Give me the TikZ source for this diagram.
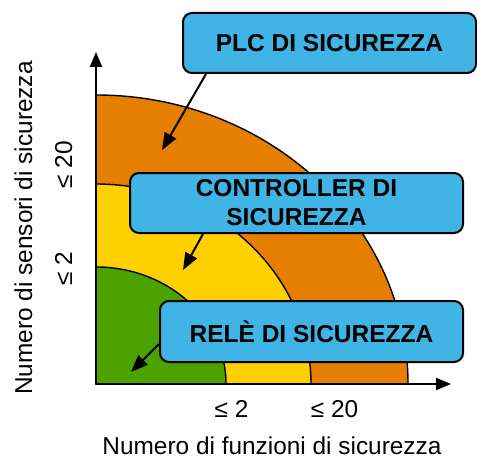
\documentclass[tikz,border=0pt]{standalone}
\usepackage{fontspec}
\setmainfont{Liberation Sans}
\usetikzlibrary{arrows.meta,calc}
\definecolor{cOrange}{HTML}{E67E00}
\definecolor{cYellow}{HTML}{FFD000}
\definecolor{cGreen}{HTML}{4CA300}
\definecolor{cBlue}{HTML}{41B4E6}
\tikzset{
  zone/.style={draw=black, line width=1.4pt},
  axis/.style={line width=2pt, -{Triangle[length=15pt,width=12pt]}},
  callout/.style={draw=black, fill=cBlue, line width=2pt, rounded corners=9pt,
    inner sep=0pt, align=center, font=\fontsize{24.5}{29}\selectfont\bfseries},
  pointer/.style={line width=2pt, -{Triangle[length=17pt,width=13pt]}},
  lbl/.style={font=\fontsize{24.4}{28}\selectfont, inner sep=0pt},
}
\begin{document}
\begin{tikzpicture}[x=1pt,y=1pt]
\useasboundingbox (0,0) rectangle (477,459);
\coordinate (O) at (96,75);
% zones
\filldraw[zone, fill=cOrange] (O) -- ++(312,0) arc[start angle=0, end angle=90, x radius=312, y radius=289] -- cycle;
\filldraw[zone, fill=cYellow] (O) -- ++(215,0) arc[start angle=0, end angle=90, x radius=215, y radius=200] -- cycle;
\filldraw[zone, fill=cGreen] (O) -- ++(130,0) arc[start angle=0, end angle=90, x radius=130, y radius=117] -- cycle;
% axes
\coordinate (ytip) at (96,407);
\coordinate (xtip) at (451,75);
\draw[axis] (O) -- (ytip);
\draw[axis] (O) -- (xtip);
% callouts
\node[callout, minimum width=293pt, minimum height=60pt] (plc) at (329.5,416) {PLC DI SICUREZZA};
\node[callout, minimum width=333pt, minimum height=60pt] (ctl) at (296.5,256) {CONTROLLER DI\\SICUREZZA};
\node[callout, minimum width=303pt, minimum height=61pt] (rel) at (311.5,127.5) {RELÈ DI SICUREZZA};
\coordinate (e1) at (162,309);
\coordinate (e2) at (183,189);
\coordinate (e3) at (131,87);
\draw[pointer] ($(plc.south west)+(24,0)$) -- (e1);
\draw[pointer] ($(ctl.south west)+(74,0)$) -- (e2);
\draw[pointer] ($(rel.south west)+(0,19)$) -- (e3);
% labels
\node[lbl, anchor=base] (x1) at (231.5,42) {≤ 2};
\node[lbl, anchor=base] (x2) at (334.5,42) {≤ 20};
\node[lbl, anchor=base] (xl) at (272,5) {Numero di funzioni di sicurezza};
\node[lbl, anchor=base, rotate=90] (y1) at (72,190.5) {≤ 2};
\node[lbl, anchor=base, rotate=90] (y2) at (72,294) {≤ 20};
\node[lbl, anchor=base, rotate=90] (yl) at (32,231) {Numero di sensori di sicurezza};
\end{tikzpicture}
\end{document}
